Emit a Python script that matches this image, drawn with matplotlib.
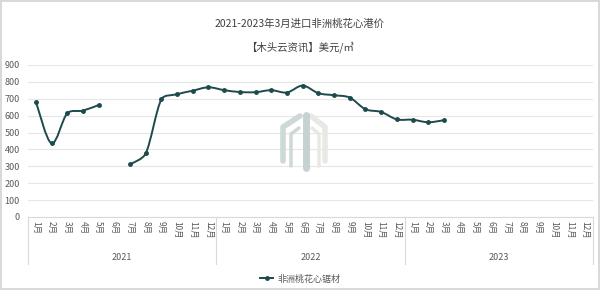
import numpy as np
import matplotlib.pyplot as plt
from matplotlib.path import Path
from matplotlib.patches import PathPatch
from matplotlib.lines import Line2D

plt.rcParams['font.family'] = ['Noto Sans CJK SC', 'DejaVu Sans']

# 数据
years = ['2021', '2022', '2023']
months = [f'{m}月' for m in range(1, 13)]
# 2021-01 ... 2023-12, None = 无数据
prices = [683, 436, 614, 630, 663, None, 311, 376, 697, 727, 748, 768,
          751, 740, 739, 751, 737, 778, 733, 721, 707, 638, 622, 578,
          576, 561, 573, None, None, None, None, None, None, None, None, None]
series_name = '非洲桃花心锯材'

line_color = '#1d4a4c'

fig = plt.figure(figsize=(6, 2.9), dpi=100)
fig.patch.set_edgecolor('#d9d9d9')
fig.patch.set_linewidth(1.5)
ax = fig.add_axes([28 / 600, (290 - 217) / 290, (593 - 28) / 600, (217 - 65) / 290])

n = len(prices)
x = np.arange(n)
ax.set_xlim(-0.5, n - 0.5)
ax.set_ylim(0, 900)


# 水印 (像素坐标, 左上为原点)
def px(pts):
    return [(a / 600, 1 - b / 290) for a, b in pts]


wm = [
    (px([(300, 116), (283, 127), (283, 161)]), '#cfd8d8', 4.0),
    (px([(299, 128), (291, 134), (291, 166)]), '#cfd8d8', 2.5),
    (px([(311, 116), (325, 127), (325, 161)]), '#e8e8e4', 4.0),
    (px([(312, 128), (319, 134), (319, 166)]), '#e8e8e4', 2.5),
]
for pts, c, w in wm:
    xs, ys = zip(*pts)
    fig.add_artist(Line2D(xs, ys, color=c, lw=w, solid_capstyle='round',
                          transform=fig.transFigure, zorder=0.5))
fig.add_artist(Line2D([305.5 / 600] * 2, [1 - 115 / 290, 1 - 168 / 290],
                      color='#c6d2d2', lw=5, solid_capstyle='round',
                      transform=fig.transFigure, zorder=0.5))

# 分段平滑曲线 (Catmull-Rom, 在显示坐标中计算, 控制点长度限制)
segs = []
cur = []
for i, v in enumerate(prices):
    if v is None:
        if cur:
            segs.append(cur)
        cur = []
    else:
        cur.append((i, v))
if cur:
    segs.append(cur)

to_disp = ax.transData
to_data = ax.transData.inverted()


def clamp(v, lim):
    ln = np.hypot(*v)
    return v if ln <= lim else v * lim / ln


for seg in segs:
    p = np.array(seg, dtype=float)
    d = to_disp.transform(p)
    m = len(d)
    verts = [d[0]]
    codes = [Path.MOVETO]
    for i in range(m - 1):
        p0 = d[i - 1] if i > 0 else d[i]
        p1, p2 = d[i], d[i + 1]
        p3 = d[i + 2] if i + 2 < m else d[i + 1]
        L = np.hypot(*(p2 - p1))
        c1 = p1 + clamp((p2 - p0) / 6, 0.35 * L)
        c2 = p2 - clamp((p3 - p1) / 6, 0.35 * L)
        verts += [c1, c2, p2]
        codes += [Path.CURVE4] * 3
    verts = to_data.transform(np.array(verts))
    ax.add_patch(PathPatch(Path(verts, codes), facecolor='none',
                           edgecolor=line_color, lw=1.4, zorder=3))
    ax.plot(p[:, 0], p[:, 1], 'o', color=line_color, ms=2.5, zorder=4)

ax.set_yticks(range(0, 901, 100))
ax.yaxis.grid(True, color='#e6e6e6', lw=0.8)
ax.set_axisbelow(True)
ax.patch.set_alpha(0)
for s in ['top', 'right', 'left']:
    ax.spines[s].set_visible(False)
ax.spines['bottom'].set_color('#d9d9d9')
ax.tick_params(axis='y', length=0, labelsize=6.5, labelcolor='#595959', pad=6)

ax.set_xticks(x)
ax.set_xticklabels(months * len(years), rotation=-90, fontsize=6,
                   color='#595959')
ax.tick_params(axis='x', length=0, pad=3)

# 年份分组
trans = ax.get_xaxis_transform()
for k, yr in enumerate(years):
    ax.text(k * 12 + 5.5, -0.265, yr, transform=trans, ha='center',
            va='center', fontsize=6.5, color='#595959')
for k in range(len(years) + 1):
    ax.plot([k * 12 - 0.5] * 2, [0, -0.31], transform=trans, color='#d9d9d9',
            lw=0.8, clip_on=False)

fig.text(0.5, 1 - 24 / 290, '2021-2023年3月进口非洲桃花心港价', ha='center',
         va='center', fontsize=7.5, color='#404040')
fig.text(0.5, 1 - 47 / 290, '【木头云资讯】美元/㎥', ha='center',
         va='center', fontsize=7.5, color='#404040')

handle = Line2D([], [], color=line_color, lw=1.4, marker='o', ms=2.5)
fig.legend([handle], [series_name], loc='center', bbox_to_anchor=(0.5, 11 / 290),
           frameon=False, fontsize=6.5, labelcolor='#595959', handlelength=1.5,
           handletextpad=0.4)

fig.savefig('out.png', dpi=100)
